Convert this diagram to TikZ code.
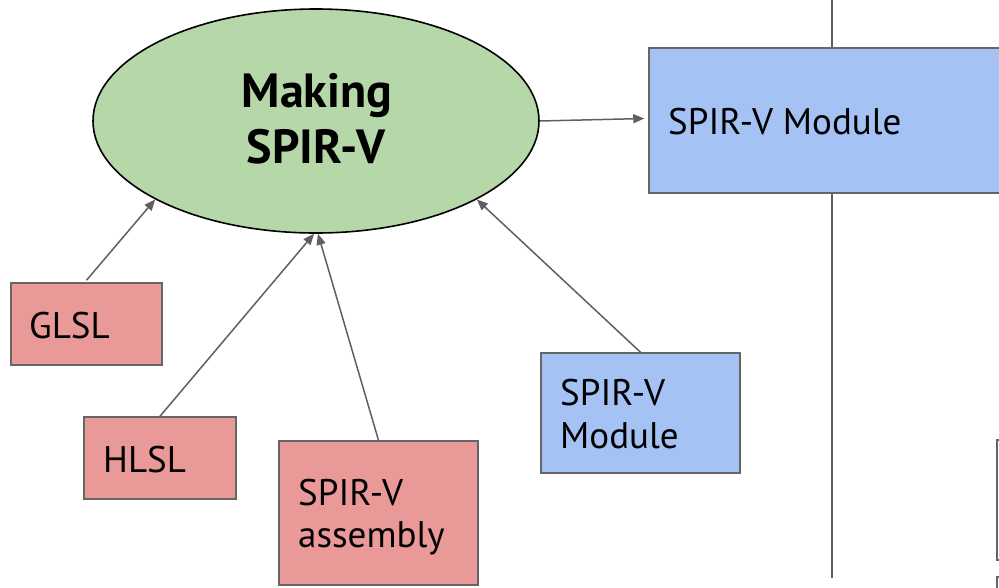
\documentclass[tikz,border=0pt]{standalone}
\usepackage{fontspec}
\setmainfont{PT Sans}
\usetikzlibrary{arrows.meta,shapes.geometric}

\definecolor{srcred}{HTML}{EA9999}
\definecolor{modblue}{HTML}{A4C2F4}
\definecolor{makegreen}{HTML}{B6D7A8}
\definecolor{edgegrey}{HTML}{666666}
\definecolor{arrowgrey}{HTML}{5F5F5F}

\tikzset{
  box/.style={draw=edgegrey, line width=1.5pt, rectangle, inner sep=0pt},
  srcbox/.style={box, fill=srcred},
  modbox/.style={box, fill=modblue},
  label/.style={anchor=base west, inner sep=0pt, font=\fontsize{37}{42}\selectfont},
  biglabel/.style={anchor=base, inner sep=0pt, font=\fontsize{48}{56}\selectfont\bfseries},
  feed/.style={draw=arrowgrey, line width=1.5pt, -{Triangle[length=11pt,width=9pt]}},
  divider/.style={draw=arrowgrey, line width=1.5pt}
}

\begin{document}
\begin{tikzpicture}[x=1pt,y=-1pt]
  \useasboundingbox (0,0) rectangle (999,587);
  \clip (0,0) rectangle (999,587);

  % central ellipse
  \node[ellipse, draw=black, line width=1.6pt, fill=makegreen,
        minimum width=446pt, minimum height=224pt, inner sep=0pt] (mk) at (316,121) {};
  \node[biglabel] (mk1) at (317,107) {Making};
  \node[biglabel] (mk2) at (316,163) {SPIR-V};

  % divider line and output module
  \coordinate (divtop) at (832,0);
  \coordinate (divbot) at (832,578);
  \node[modbox, minimum width=361pt, minimum height=145pt] (big) at (829.5,120.5) {};
  \draw[divider] (divtop) -- (big.north -| divtop);
  \draw[divider] (big.south -| divtop) -- (divbot);
  \node[label] (bigt) at (668,134) {SPIR-V Module};

  % partial boxes at the right edge
  \node[box, fill=white, minimum width=20pt, minimum height=120pt] (edge1) at (1007,500) {};
  \node[box, fill=white, minimum width=20pt, minimum height=40pt] (edge2) at (1007,597) {};

  % inputs
  \node[srcbox, minimum width=151pt, minimum height=82pt] (glsl) at (86.5,324) {};
  \node[label] (glslt) at (29,338) {GLSL};

  \node[srcbox, minimum width=152pt, minimum height=82pt] (hlsl) at (160,458) {};
  \node[label] (hlslt) at (103,472) {HLSL};

  \node[srcbox, minimum width=199pt, minimum height=144pt] (asm) at (378.5,513) {};
  \node[label] (asmt1) at (298,505) {SPIR-V};
  \node[label] (asmt2) at (298,547) {assembly};

  \node[modbox, minimum width=199pt, minimum height=120pt] (mod) at (640.5,413) {};
  \node[label] (modt1) at (560,405) {SPIR-V};
  \node[label] (modt2) at (560,448) {Module};

  % connectors
  \draw[feed] ([yshift=2pt]glsl.north) -- (mk.206);
  \draw[feed] (hlsl.north) -- (mk.269);
  \draw[feed] (asm.north) -- (mk.271);
  \draw[feed] (mod.north) -- (mk.334);
  \draw[feed] (mk.east) -- ([xshift=-4pt,yshift=2pt]big.west);
\end{tikzpicture}
\end{document}
